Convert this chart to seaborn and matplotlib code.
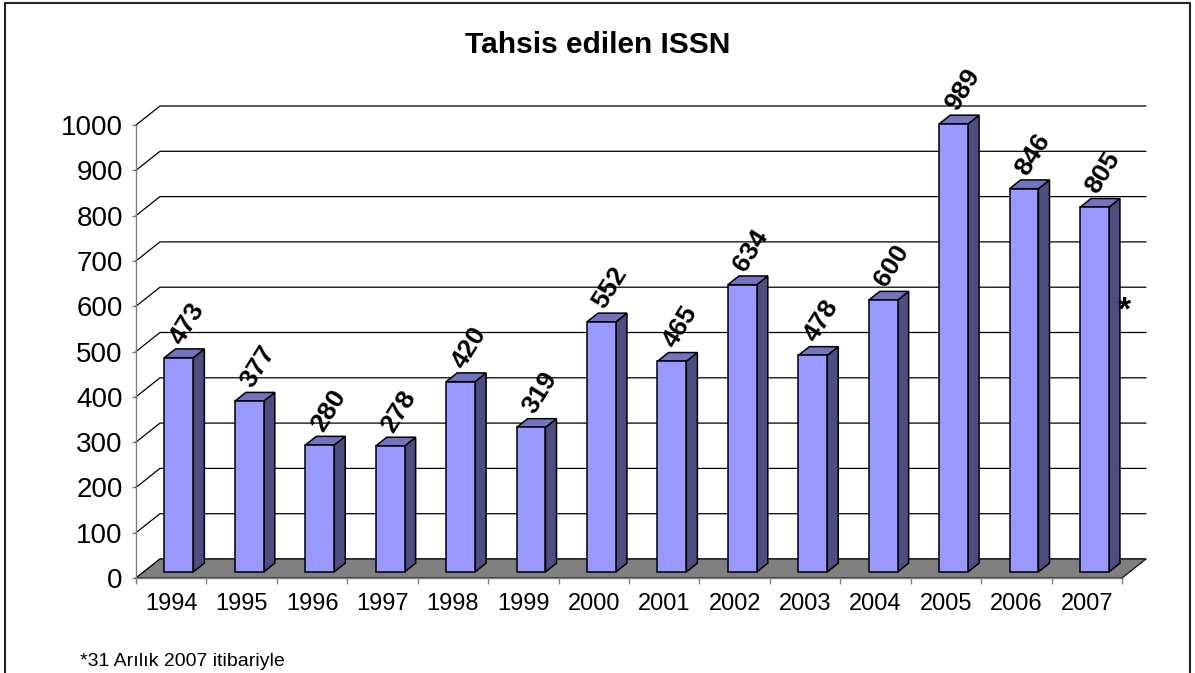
import numpy as np
import matplotlib
matplotlib.use('Agg')
import matplotlib.pyplot as plt
from matplotlib.patches import Polygon
import seaborn as sns

# data
years = ['1994', '1995', '1996', '1997', '1998', '1999', '2000',
         '2001', '2002', '2003', '2004', '2005', '2006', '2007']
counts = [473, 377, 280, 278, 420, 319, 552, 465, 634, 478, 600, 989, 846, 805]
yticks = [0, 100, 200, 300, 400, 500, 600, 700, 800, 900, 1000]
title = 'Tahsis edilen ISSN'
note = '*31 Arılık 2007 itibariyle'

sns.set_theme(style='white')
plt.rcParams['font.family'] = ['Liberation Sans', 'DejaVu Sans']
plt.rcParams['text.color'] = 'black'
plt.rcParams['xtick.labelcolor'] = 'black'
plt.rcParams['ytick.labelcolor'] = 'black'

W, H = 1195, 673
fig = plt.figure(figsize=(W / 100, H / 100), dpi=100)
ax = fig.add_axes([136 / W, 95 / H, 986 / W, 453 / H])

front_c = '#9999ff'
side_c = '#4d4d80'
top_c = '#7373bf'

sns.barplot(x=years, y=counts, color=front_c, saturation=1, width=0.41,
            edgecolor='black', linewidth=1.1, ax=ax, zorder=4)
ax.set_xlim(-0.5, 13.5)
ax.set_ylim(0, 1000)

# depth vector (pixels -> data units)
px_x = 986 / 14.0
px_y = 453 / 1000.0
Dx, Dy = 24 / px_x, 19 / px_y

# back wall gridlines + left wall diagonals
for v in yticks:
    ax.plot([-0.5, -0.5 + Dx, 13.5 + Dx], [v, v + Dy, v + Dy], color='black',
            lw=0.9, clip_on=False, zorder=1)

# floor
floor = Polygon([(-0.5, 0), (13.5, 0), (13.5 + Dx, Dy), (-0.5 + Dx, Dy)],
                closed=True, facecolor='#808080', edgecolor='black', lw=0.8,
                clip_on=False, zorder=2)
ax.add_patch(floor)

# move bars into depth and add sides/tops
fx, fy = 0.32 * Dx, 0.32 * Dy
bx, by = 0.46 * Dx, 0.46 * Dy
bars = ax.patches[:len(counts)]
for p in bars:
    p.set_x(p.get_x() + fx)
    p.set_y(p.get_y() + fy)
    p.set_clip_on(False)
for p, v in zip(bars, counts):
    x0 = p.get_x()
    x1 = x0 + p.get_width()
    y0 = p.get_y()
    y1 = y0 + v
    side = Polygon([(x1, y0), (x1, y1), (x1 + bx, y1 + by), (x1 + bx, y0 + by)],
                   closed=True, facecolor=side_c, edgecolor='black', lw=1.1,
                   clip_on=False, zorder=3)
    top = Polygon([(x0, y1), (x1, y1), (x1 + bx, y1 + by), (x0 + bx, y1 + by)],
                  closed=True, facecolor=top_c, edgecolor='black', lw=1.1,
                  clip_on=False, zorder=3)
    ax.add_patch(side)
    ax.add_patch(top)
    ax.annotate(str(v), xy=((x0 + x1) / 2, y1), xytext=(2.2, 8.6),
                textcoords='offset points', ha='left', va='baseline',
                rotation=58, rotation_mode='anchor', fontsize=19,
                fontweight='bold', color='black', zorder=6,
                annotation_clip=False)

# axes
for s in ['top', 'right']:
    ax.spines[s].set_visible(False)
for s in ['left', 'bottom']:
    ax.spines[s].set_color('#808080')
    ax.spines[s].set_linewidth(1.0)
    ax.spines[s].set_zorder(5)
ax.set_yticks(yticks)
ax.set_yticklabels([str(t) for t in yticks])
ax.set_xticks(np.arange(len(years)))
ax.set_xticks(np.arange(len(years) + 1) - 0.5, minor=True)
ax.tick_params(axis='y', which='major', direction='out', length=3, width=1,
               color='#808080', labelsize=20, pad=6.5, left=True,
               labelcolor='black')
ax.tick_params(axis='x', which='major', length=0, labelsize=17, pad=10.5,
               labelcolor='black')
ax.tick_params(axis='x', which='minor', direction='out', length=4.5, width=1,
               color='#808080', bottom=True)
ax.set_xlabel('')
ax.set_ylabel('')
ax.grid(False)
ax.set_facecolor('none')

fig.text(598 / W, 1 - 53 / H, title, ha='center', va='baseline',
         fontsize=21.5, fontweight='bold', color='black')
fig.text(80 / W, 1 - 666 / H, note, ha='left', va='baseline', fontsize=14,
         color='black')
fig.text(1124 / W, 1 - 320 / H, '*', ha='center', va='baseline',
         fontsize=24, fontweight='bold', color='black')

# outer frame (open at bottom)
fig.add_artist(plt.Line2D([5 / W, 5 / W, 1190 / W, 1190 / W],
                          [0, 1 - 3 / H, 1 - 3 / H, 0], transform=fig.transFigure,
                          color='#222222', lw=1.5))

fig.savefig('out.png', dpi=100)
